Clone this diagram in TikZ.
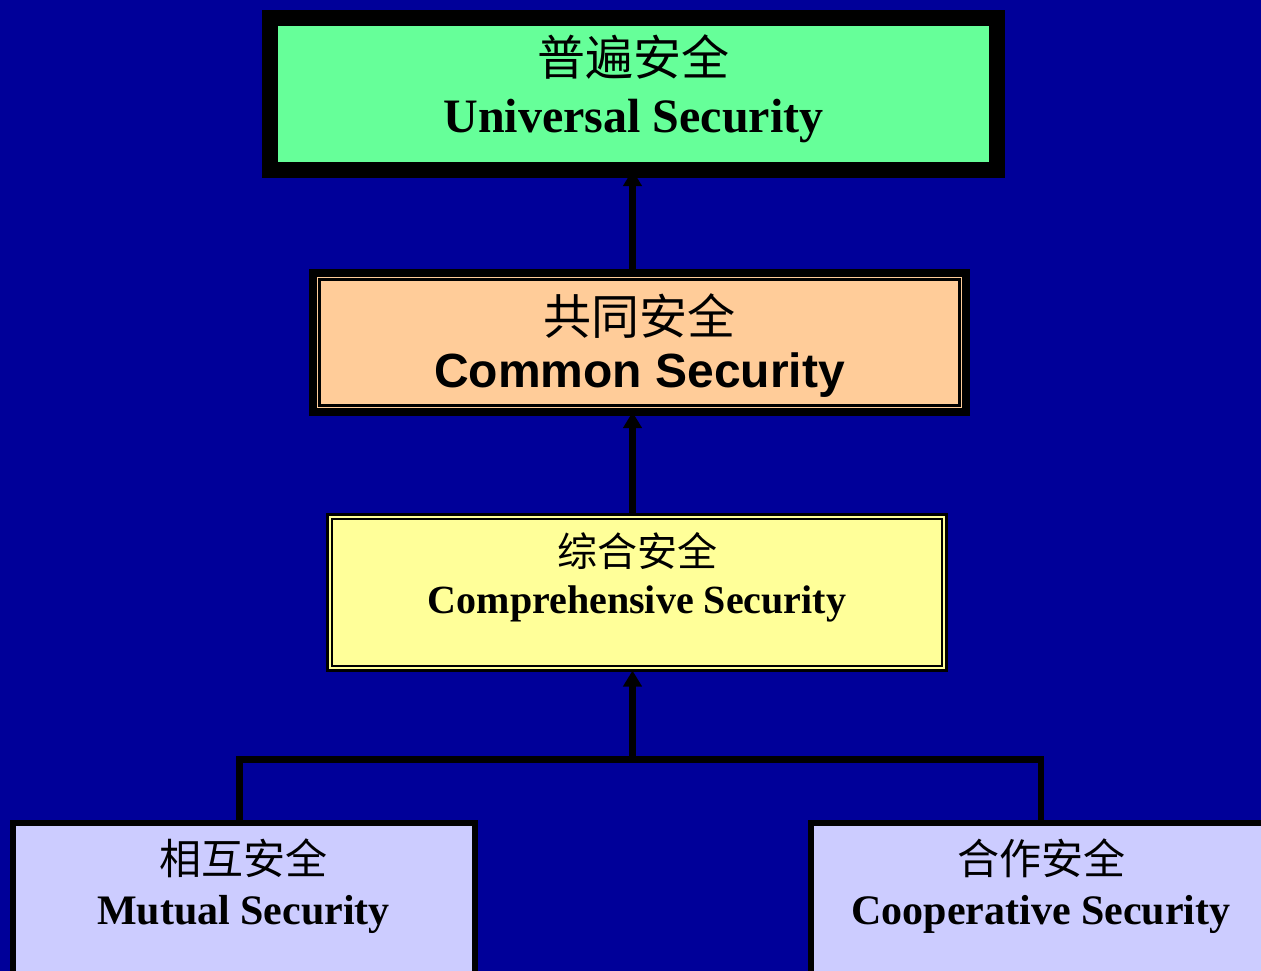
\documentclass[tikz,border=0pt]{standalone}
\usepackage{fontspec}
\setmainfont{Liberation Serif}
\newfontfamily\arialfont{Liberation Sans}
\newfontfamily\cjk{Noto Sans CJK SC}
\usetikzlibrary{arrows.meta}
\definecolor{bgblue}{HTML}{000099}
\definecolor{boxgreen}{HTML}{66FF99}
\definecolor{boxpeach}{HTML}{FFCC99}
\definecolor{boxyellow}{HTML}{FFFF99}
\definecolor{boxlilac}{HTML}{CCCCFF}

\begin{document}
\begin{tikzpicture}[x=1pt,y=-1pt,
    box/.style={rectangle,draw=black,inner sep=0pt,outer sep=0pt},
    txt/.style={inner sep=0pt,outer sep=0pt,align=center},
    conn/.style={line width=6.5pt,draw=black},
    arr/.style={conn,-{Triangle[width=18pt,length=16pt]}}]
  \useasboundingbox (0,0) rectangle (1261,971);
  \fill[bgblue] (0,0) rectangle (1261,971);
  \clip (0,0) rectangle (1261,971);
  \node[box,fill=boxgreen,line width=16pt,minimum width=727pt,minimum height=152pt] (universal) at (633.5,94) {};
  \node[box,fill=boxpeach,line width=8pt,minimum width=653pt,minimum height=139pt] (common) at (639.5,342.5) {};
  \node[box,fill=boxyellow,line width=3.3pt,minimum width=619pt,minimum height=156pt] (comprehensive) at (637,592.5) {};
  \draw[line width=2.3pt] ([xshift=6.5pt,yshift=-6.5pt]common.north west)
    rectangle ([xshift=-6.5pt,yshift=6.5pt]common.south east);
  \draw[line width=2.5pt] ([xshift=4.5pt,yshift=-4.5pt]comprehensive.north west)
    rectangle ([xshift=-4.5pt,yshift=4.5pt]comprehensive.south east);
  \node[box,fill=boxlilac,line width=6pt,minimum width=461.5pt,minimum height=187pt] (mutual) at (243.75,916.5) {};
  \node[box,fill=boxlilac,line width=6pt,minimum width=489pt,minimum height=187pt] (cooperative) at (1055.5,916.5) {};
  \node[txt,font=\fontsize{48}{57}\selectfont] (universaltxt) at ([yshift=5.3pt]universal.center)
    {{\cjk 普遍安全}\\{\bfseries Universal Security}};
  \node[txt,font=\fontsize{48}{53}\selectfont] (commontxt) at ([yshift=-3pt]common.center)
    {{\cjk 共同安全}\\{\arialfont\bfseries Common Security}};
  \node[txt,font=\fontsize{40}{46.8}\selectfont] (comprehensivetxt) at ([yshift=15.1pt]comprehensive.center)
    {{\cjk 综合安全}\\{\bfseries Comprehensive Security}};
  \node[txt,font=\fontsize{42}{50}\selectfont] (mutualtxt) at (243.5,886)
    {{\cjk 相互安全}\\{\bfseries Mutual Security}};
  \node[txt,font=\fontsize{42}{50}\selectfont] (cooperativetxt) at (1041,886)
    {{\cjk 合作安全}\\{\bfseries Cooperative Security}};
  \coordinate (jc) at (632.5,759.5);
  \coordinate (jl) at (239.5,759.5);
  \coordinate (jr) at (1041,759.5);
  \draw[conn] (mutual.north -| jl) -- (jl) -- (jr) -- (cooperative.north -| jr);
  \draw[arr] (jc) -- (comprehensive.south -| jc);
  \draw[arr] (comprehensive.north -| jc) -- (common.south -| jc);
  \draw[arr] (common.north -| jc) -- (universal.south -| jc);
\end{tikzpicture}
\end{document}
